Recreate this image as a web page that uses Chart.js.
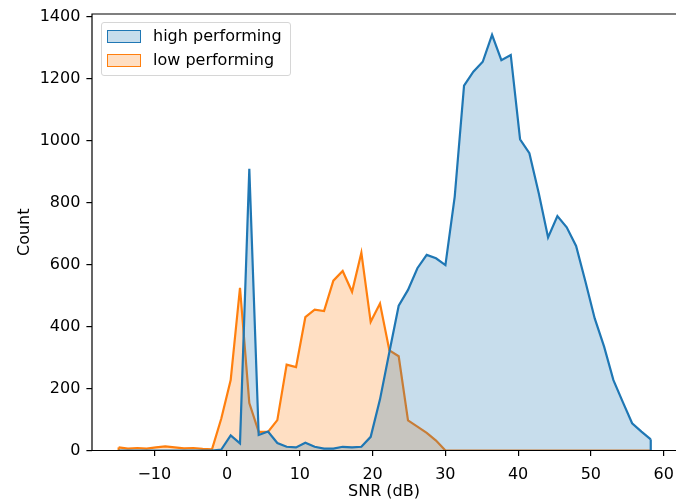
<!DOCTYPE html>
<html>
<head>
<meta charset="utf-8">
<script src="https://cdn.jsdelivr.net/npm/chart.js@4.4.0/dist/chart.umd.min.js"></script>
<style>
  body { margin: 0; background: #fff; }
  #wrap { position: relative; width: 676px; height: 499px; }
  #legend {
    position: absolute; left: 101px; top: 22px; width: 188px; height: 52px;
    border: 1px solid #d6d6d6; border-radius: 3px; background: rgba(255,255,255,0.8);
    font-family: "DejaVu Sans", sans-serif; font-size: 16px; color: #000;
  }
  .item { position: absolute; left: 5px; height: 14px; }
  .swatch { position: absolute; left: 0; top: 0; width: 32px; height: 11px; border-width: 1.5px; border-style: solid; }
  .label { position: absolute; left: 46px; top: -4px; white-space: nowrap; }
</style>
</head>
<body>
<div id="wrap">
  <canvas id="snrChart" width="676" height="499"></canvas>
  <div id="legend">
    <div class="item" style="top:7px"><span class="swatch" style="background:rgba(31,119,180,0.25);border-color:#1f77b4"></span><span class="label">high performing</span></div>
    <div class="item" style="top:31px"><span class="swatch" style="background:rgba(255,127,14,0.25);border-color:#ff7f0e"></span><span class="label">low performing</span></div>
  </div>
</div>
<script>
// bin centres (SNR, dB), shared by both groups
const snrBins = [
  -14.90, -13.62, -12.33, -11.05, -9.77, -8.49, -7.20, -5.92, -4.64, -3.35,
  -2.07, -0.79, 0.50, 1.78, 3.06, 4.35, 5.63, 6.91, 8.19, 9.48,
  10.76, 12.04, 13.33, 14.61, 15.89, 17.18, 18.46, 19.74, 21.02, 22.31,
  23.59, 24.87, 26.16, 27.44, 28.72, 30.01, 31.29, 32.57, 33.85, 35.14,
  36.42, 37.70, 38.99, 40.27, 41.55, 42.84, 44.12, 45.40, 46.68, 47.97,
  49.25, 50.53, 51.82, 53.10, 54.38, 55.67, 56.95, 58.23
];

const highCounts = [
  0, 0, 0, 0, 0, 0, 0, 0, 0, 0,
  0, 3, 49, 23, 909, 50, 61, 24, 12, 10,
  25, 12, 6, 6, 12, 10, 12, 44, 165, 318,
  467, 518, 588, 631, 620, 598, 819, 1177, 1222, 1254,
  1341, 1259, 1276, 1004, 959, 830, 687, 756, 720, 660,
  545, 426, 335, 227, 157, 88, 61, 36
];

const lowCounts = [
  10, 6, 8, 6, 10, 13, 10, 7, 8, 5,
  4, 103, 227, 525, 153, 60, 60, 98, 277, 269,
  430, 454, 450, 548, 579, 512, 638, 415, 474, 323,
  304, 97, 77, 57, 32, 0, 0, 0, 0, 0,
  0, 0, 0, 0, 0, 0, 0, 0, 0, 0,
  0, 0, 0, 0, 0, 0, 0, 0
];

const xTicks = [-10, 0, 10, 20, 30, 40, 50, 60];
const yTicks = [0, 200, 400, 600, 800, 1000, 1200, 1400];

const toPoints = (xs, ys) => xs.map((x, i) => ({ x: x, y: ys[i] }));
const font = { family: "DejaVu Sans", size: 16 };

// fixed axis boxes so the plot area matches the original figure
const fixBox = (size) => (s) => {
  if (s.isHorizontal()) s.height = size; else s.width = size;
  s.paddingTop = 0; s.paddingBottom = 0; s.paddingLeft = 0; s.paddingRight = 0;
};

// polygon ends: matplotlib closes the filled outline down to zero
const polyEdges = {
  id: "polyEdges",
  afterDatasetDraw(chart, args) {
    const pts = args.meta.data;
    if (!pts.length) return;
    const ctx = chart.ctx;
    const y0 = chart.scales.y.getPixelForValue(0);
    ctx.save();
    ctx.strokeStyle = args.meta.dataset.options.borderColor;
    ctx.lineWidth = 2.2;
    ctx.beginPath();
    [pts[0], pts[pts.length - 1]].forEach((p) => {
      ctx.moveTo(p.x, p.y);
      ctx.lineTo(p.x, y0);
    });
    ctx.stroke();
    ctx.restore();
  },
  afterDatasetsDraw(chart) {
    const { ctx, chartArea: a } = chart;
    ctx.save();
    ctx.strokeStyle = "#000";
    ctx.lineWidth = 1.2;
    ctx.beginPath();
    ctx.moveTo(a.left, a.bottom);
    ctx.lineTo(a.left, a.top);
    ctx.lineTo(a.right + 2, a.top);
    ctx.moveTo(a.left, a.bottom);
    ctx.lineTo(a.right + 2, a.bottom);
    ctx.stroke();
    ctx.restore();
  },
};

new Chart(document.getElementById("snrChart"), {
  type: "line",
  data: {
    datasets: [
      {
        label: "high performing",
        data: toPoints(snrBins, highCounts),
        borderColor: "#1f77b4",
        backgroundColor: "rgba(31,119,180,0.25)",
        borderWidth: 2.2,
        fill: "origin",
        pointRadius: 0,
        tension: 0,
      },
      {
        label: "low performing",
        data: toPoints(snrBins, lowCounts),
        borderColor: "#ff7f0e",
        backgroundColor: "rgba(255,127,14,0.25)",
        borderWidth: 2.2,
        fill: "origin",
        pointRadius: 0,
        tension: 0,
      },
    ],
  },
  options: {
    responsive: false,
    animation: false,
    devicePixelRatio: 1,
    layout: { padding: { top: 14, right: 0, bottom: 0, left: 0 } },
    plugins: {
      legend: { display: false },
      tooltip: { enabled: false },
    },
    scales: {
      x: {
        type: "linear",
        min: -18.56,
        max: 61.7,
        afterFit: fixBox(48.5),
        afterBuildTicks: (s) => { s.ticks = xTicks.map((v) => ({ value: v })); },
        ticks: {
          font: font,
          color: "#000",
          padding: 9,
          maxRotation: 0,
          callback: (v) => String(v).replace("-", "\u2212"),
        },
        grid: { drawOnChartArea: false, drawTicks: true, tickLength: 5.6, color: "#000", lineWidth: 1.2 },
        border: { display: false },
        title: { display: true, text: "SNR (dB)", font: { family: "DejaVu Sans", size: 16, lineHeight: 1 }, color: "#000", padding: { top: 0, bottom: -1 } },
      },
      y: {
        min: 0,
        max: 1408,
        afterFit: fixBox(92),
        afterBuildTicks: (s) => { s.ticks = yTicks.map((v) => ({ value: v })); },
        ticks: { font: font, color: "#000", padding: 6, callback: (v) => String(v) },
        grid: { drawOnChartArea: false, drawTicks: true, tickLength: 5.6, color: "#000", lineWidth: 1.2 },
        border: { display: false },
        title: { display: true, text: "Count", font: font, color: "#000", padding: { top: 15, bottom: 0 } },
      },
    },
  },
  plugins: [polyEdges],
});
</script>
</body>
</html>
